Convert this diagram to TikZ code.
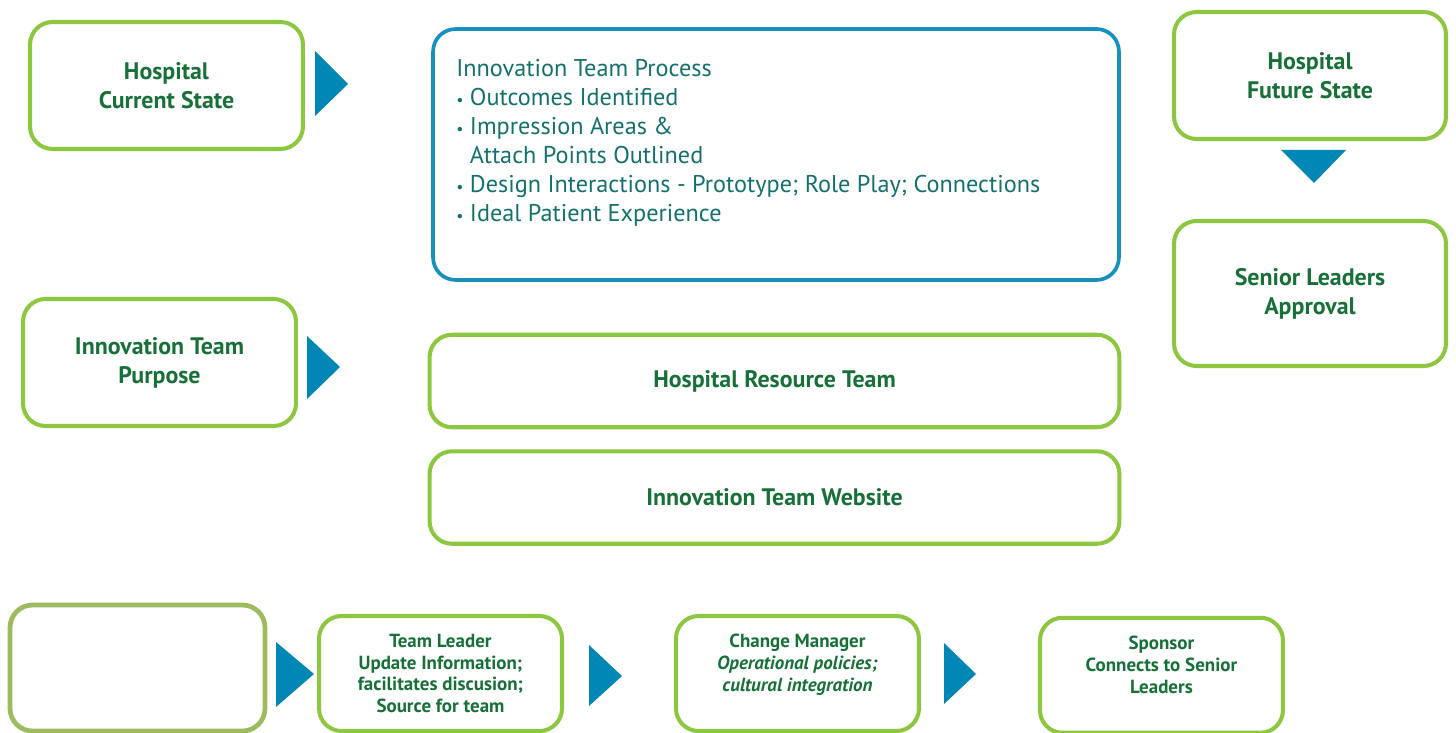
\documentclass[tikz,border=0pt]{standalone}
\usepackage{fontspec}
\setmainfont{PT Sans}
\usetikzlibrary{positioning}
\definecolor{boxgreen}{RGB}{141,198,63}
\definecolor{olivegreen}{RGB}{157,187,94}
\definecolor{textgreen}{RGB}{22,112,56}
\definecolor{procblue}{RGB}{24,144,188}
\definecolor{procteal}{RGB}{20,112,112}
\definecolor{triblue}{RGB}{0,135,182}

\begin{document}
\begin{tikzpicture}[x=0.02cm,y=-0.02cm,node distance=1cm,
  box/.style={draw=boxgreen,line width=2.3pt,rounded corners=0.45cm,align=center,text=textgreen,
    font=\fontsize{13.6}{16.5}\selectfont\bfseries},
  bigbox/.style={box,minimum width=5.46cm,minimum height=2.54cm},
  widebox/.style={box,minimum width=13.8cm,minimum height=1.85cm},
  smallbox/.style={box,minimum width=4.86cm,minimum height=2.3cm,font=\fontsize{10.8}{12.5}\selectfont\bfseries},
  tri/.style={fill=triblue}]
  \useasboundingbox (0,0) rectangle (1456,733);

  \node (cur) at (166.5,85.5)[bigbox]{Hospital\\Current State};
  \node (purp) at (159.5,362.5)[bigbox]{Innovation Team\\Purpose};
  \node (fut) at (1310,75.5)[bigbox,minimum width=5.44cm]{Hospital\\Future State};
  \node[below=1.56cm of fut](sen)[bigbox,minimum width=5.44cm,minimum height=2.9cm]{Senior Leaders\\Approval};

  \node (proc) at (776,154.5)[draw=procblue,line width=2.1pt,rounded corners=0.45cm,
    minimum width=13.72cm,minimum height=5.02cm]{};
  \node (proctxt) at (456,59)[anchor=north west,inner sep=0pt,align=left,text=procteal,
    font=\fontsize{13.8}{16.5}\selectfont]{Innovation Team Process\\
    {\small\textbullet}\ Outcomes Identified\\
    {\small\textbullet}\ Impression Areas \&\\
    \phantom{{\small\textbullet}\ }Attach Points Outlined\\
    {\small\textbullet}\ Design Interactions - Prototype; Role Play; Connections\\
    {\small\textbullet}\ Ideal Patient Experience};

  \node (res) at (774.5,381)[widebox]{Hospital Resource Team};
  \node[below=0.4cm of res](web)[widebox]{Innovation Team Website};

  % bottom row
  \node (blank) at (137.5,668)[box,draw=olivegreen,line width=2.7pt,minimum width=5.1cm,minimum height=2.52cm]{};
  \node (lead) at (440.5,673.5)[smallbox]{Team Leader\\Update Information;\\facilitates discusion;\\Source for team};
  \node[right=2.2cm of lead](chg)[smallbox]{Change Manager\\\textit{Operational policies;}\\\textit{cultural integration}\\~};
  \node[right=2.34cm of chg](spon)[smallbox,yshift=-1pt]{Sponsor\\Connects to Senior\\Leaders\\~};

  \fill[tri](315,51)--(348,84)--(315,116)--cycle;
  \fill[tri](307,336)--(340,367)--(307,399)--cycle;
  \fill[tri](1281,150)--(1346,150)--(1314,183)--cycle;
  \fill[tri](276,642)--(314,674)--(276,707)--cycle;
  \fill[tri](589,645)--(622,676)--(589,706)--cycle;
  \fill[tri](944,643)--(976,674)--(944,704)--cycle;
\end{tikzpicture}
\end{document}
